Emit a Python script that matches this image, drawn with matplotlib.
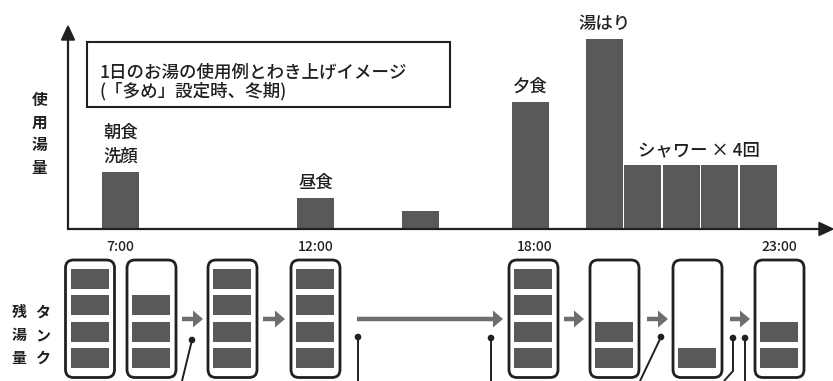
import matplotlib
matplotlib.use("Agg")
import matplotlib.pyplot as plt
from matplotlib.patches import FancyBboxPatch, Rectangle, FancyArrow, Polygon, Circle

plt.rcParams['font.family'] = ['Noto Sans CJK JP', 'DejaVu Sans']

# ---- data ----
bar_centers = [120.5, 315.5, 420.5, 530.5, 604.5, 642.5, 681.5, 719.5, 758.5]
bar_usage = [56, 30, 17, 126, 189, 63, 63, 63, 63]
bar_labels = ["朝食\n洗顔", "昼食", "", "夕食", "湯はり", "", "", "", ""]
shower_label = "シャワー × 4回"
title_lines = ["1日のお湯の使用例とわき上げイメージ", "(「多め」設定時、冬期)"]
time_labels = ["7:00", "12:00", "18:00", "23:00"]
time_x = [120.5, 315.5, 535, 779.5]
tank_centers = [90, 151.5, 232.5, 315.5, 533.5, 614.5, 697.5, 779.5]
tank_levels = [4, 3, 4, 4, 4, 2, 1, 2]
arrow_spans = [(182, 203), (263, 285), (357, 503), (564, 584), (647, 668), (730, 750)]

BAR = "#58595b"
ARR = "#6d6e71"
INK = "#231f20"
W = "medium"

fig = plt.figure(figsize=(8.33, 3.81), dpi=100)
ax = fig.add_axes([0, 0, 1, 1])
ax.set_xlim(0, 833)
ax.set_ylim(381, 0)
ax.axis("off")

base = 229
# axes with arrows
ax.plot([68, 68], [base + 1, 38], color=INK, lw=1.6, solid_capstyle="butt")
ax.add_patch(Polygon([[68, 26], [61.5, 40], [74.5, 40]], closed=True, color=INK))
ax.plot([67, 820], [base, base], color=INK, lw=1.6, solid_capstyle="butt")
ax.add_patch(Polygon([[833, base], [819, base - 6.5], [819, base + 6.5]], closed=True, color=INK))

# bars
ax.bar(bar_centers, [-u for u in bar_usage], bottom=base - 0.8, width=37, color=BAR, linewidth=0)
for c, u, lab in zip(bar_centers, bar_usage, bar_labels):
    if lab:
        ax.text(c, base - u - 7, lab, ha="center", va="bottom", fontsize=12.5,
                color=INK, linespacing=1.45, fontweight=W)
ax.text((bar_centers[5] + bar_centers[8]) / 2 - 2, base - bar_usage[5] - 7, shower_label,
        ha="center", va="bottom", fontsize=12.5, color=INK, fontweight=W)

# title box
ax.add_patch(Rectangle((87, 42), 363, 65, fill=False, ec=INK, lw=1.5))
ax.text(100, 72, title_lines[0], ha="left", va="center", fontsize=12.6, color=INK, fontweight=W)
ax.text(100, 91, title_lines[1], ha="left", va="center", fontsize=12.6, color=INK, fontweight=W)

# vertical side labels
for i, ch in enumerate("使用湯量"):
    ax.text(39.5, 100 + i * 22.5, ch, ha="center", va="center", fontsize=11.3, color=INK,
            fontweight="bold")
for i, ch in enumerate("残湯量"):
    ax.text(19, 312 + i * 23, ch, ha="center", va="center", fontsize=10.8, color=INK,
            fontweight="bold")
for i, ch in enumerate("タンク"):
    ax.text(43, 312 + i * 23, ch, ha="center", va="center", fontsize=10.8, color=INK,
            fontweight="bold")

# time labels
for tx, tl in zip(time_x, time_labels):
    ax.text(tx, 247, tl, ha="center", va="center", fontsize=10, color=INK, fontweight=W)

# tanks
cell_tops = [348, 321.5, 295, 268.5]  # bottom to top
for c, lvl in zip(tank_centers, tank_levels):
    ax.add_patch(FancyBboxPatch((c - 24.5, 260), 49, 117.5,
                                boxstyle="round,pad=0,rounding_size=8",
                                fill=False, ec=INK, lw=2.0))
    for k in range(lvl):
        ax.add_patch(Rectangle((c - 19, cell_tops[k]), 38, 20, color=BAR, lw=0))

# arrows between tanks
for x0, x1 in arrow_spans:
    ax.add_patch(FancyArrow(x0, 319, x1 - x0, 0, width=4.5, head_width=17,
                            head_length=10, length_includes_head=True,
                            color=ARR, lw=0))

# pins
pins = [
    ([192, 182], [340, 381]),
    ([358, 358], [337, 381]),
    ([491, 491], [338, 381]),
    ([661, 640], [337, 381]),
    ([733, 733, 724], [338, 371, 381]),
    ([745, 745], [338, 381]),
]
for xs, ys in pins:
    ax.plot(xs, ys, color=INK, lw=1.4, solid_capstyle="butt")
    ax.add_patch(Circle((xs[0], ys[0]), 2.6, color=INK))

fig.savefig("out.png", dpi=100)
